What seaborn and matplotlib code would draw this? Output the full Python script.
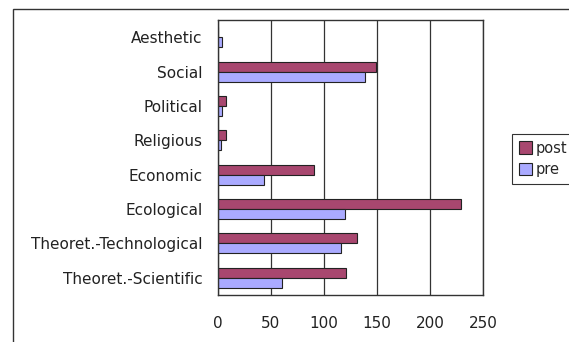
import pandas as pd
import seaborn as sns
import matplotlib.pyplot as plt
from matplotlib.patches import Rectangle

# values
categories = ['Aesthetic', 'Social', 'Political', 'Religious', 'Economic',
              'Ecological', 'Theoret.-Technological', 'Theoret.-Scientific']
post = [0, 149, 8, 8, 91, 229, 131, 121]
pre = [4, 139, 4, 3, 43, 120, 116, 60]

df = pd.DataFrame({'category': categories * 2,
                   'value': post + pre,
                   'group': ['post'] * len(categories) + ['pre'] * len(categories)})

sns.set_style('white')
plt.rcParams['font.family'] = ['DejaVu Sans']

fig = plt.figure(figsize=(5.69, 3.42), dpi=100)
ax = fig.add_axes([218 / 569, 1 - 295 / 342, 265 / 569, 275 / 342])

sns.barplot(data=df, y='category', x='value', hue='group', order=categories,
            hue_order=['post', 'pre'], palette=['#A8476F', '#AAAAFF'],
            saturation=1, orient='h', width=0.58, edgecolor='#222222',
            linewidth=0.8, ax=ax, legend=True)

ax.set_xlim(0, 250)
ax.set_xticks([0, 50, 100, 150, 200, 250])
ax.xaxis.grid(True, color='#333333', linewidth=0.9)
ax.set_axisbelow(True)
ax.set_xlabel('')
ax.set_ylabel('')
for s in ax.spines.values():
    s.set_color('#333333')
    s.set_linewidth(1.0)

ax.tick_params(axis='x', length=0, pad=15, labelsize=11, labelcolor='#222222')
ax.tick_params(axis='y', which='major', length=0, pad=11, labelsize=11,
               labelcolor='#222222')
ax.set_yticks([i + 0.5 for i in range(len(categories) - 1)], minor=True)
ax.tick_params(axis='y', which='minor', direction='in', length=5, width=0.9,
               color='#333333')

handles, labels = ax.get_legend_handles_labels()
ax.legend_.remove()
leg = fig.legend(handles, labels, loc='upper left',
                 bbox_to_anchor=(512 / 569, 1 - 134 / 342),
                 frameon=True, fancybox=False, edgecolor='black',
                 fontsize=10.5, handlelength=0.9, handleheight=0.9,
                 handletextpad=0.25, borderpad=0.45, labelspacing=0.45,
                 borderaxespad=0)
leg.get_frame().set_linewidth(0.8)

fig.patches.append(Rectangle((13 / 569, -0.2), 1.2, 1 - 8.5 / 342 + 0.2,
                             transform=fig.transFigure, fill=False,
                             edgecolor='#333333', linewidth=1.0))

fig.savefig('out.png', dpi=100)
